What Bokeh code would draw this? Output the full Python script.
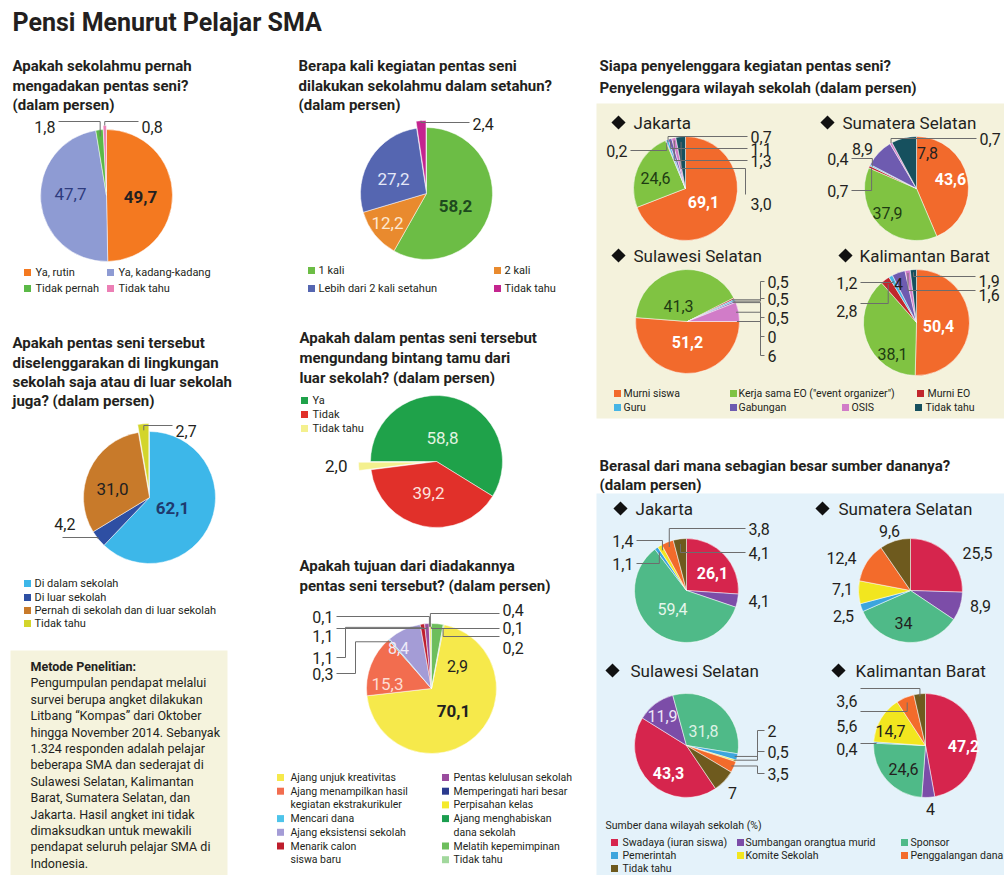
import math
from bokeh.plotting import figure
from bokeh.models import Range1d
from bokeh.core.properties import value
from bokeh.embed import file_html
from bokeh.resources import INLINE

W, H = 1004, 875

# ---------------- DATA ----------------
page_title = "Pensi Menurut Pelajar SMA"

q1_title = ["Apakah sekolahmu pernah", "mengadakan pentas seni?", "(dalam persen)"]
q1_cats = ["Ya, rutin", "Ya, kadang-kadang", "Tidak pernah", "Tidak tahu"]
q1_vals = [49.7, 47.7, 1.8, 0.8]

q2_title = ["Berapa kali kegiatan pentas seni", "dilakukan sekolahmu dalam setahun?", "(dalam persen)"]
q2_cats = ["1 kali", "2 kali", "Lebih dari 2 kali setahun", "Tidak tahu"]
q2_vals = [58.2, 12.2, 27.2, 2.4]

q3_title = ["Apakah dalam pentas seni tersebut", "mengundang bintang tamu dari", "luar sekolah? (dalam persen)"]
q3_cats = ["Ya", "Tidak", "Tidak tahu"]
q3_vals = [58.8, 39.2, 2.0]

q4_title = ["Apakah pentas seni tersebut", "diselenggarakan di lingkungan",
            "sekolah saja atau di luar sekolah", "juga? (dalam persen)"]
q4_cats = ["Di dalam sekolah", "Di luar sekolah", "Pernah di sekolah dan di luar sekolah", "Tidak tahu"]
q4_vals = [62.1, 4.2, 31.0, 2.7]

q5_title = ["Apakah tujuan dari diadakannya", "pentas seni tersebut? (dalam persen)"]
q5_cats = ["Ajang unjuk kreativitas", "Ajang menampilkan hasil\nkegiatan ekstrakurikuler", "Mencari dana",
           "Ajang eksistensi sekolah", "Menarik calon\nsiswa baru", "Pentas kelulusan sekolah",
           "Memperingati hari besar", "Perpisahan kelas", "Ajang menghabiskan\ndana sekolah",
           "Melatih kepemimpinan", "Tidak tahu"]
q5_vals = [70.1, 15.3, 0.3, 8.4, 1.1, 1.1, 0.1, 0.4, 0.1, 2.9, 0.2]

org_title = ["Siapa penyelenggara kegiatan pentas seni?", "Penyelenggara wilayah sekolah (dalam persen)"]
org_cats = ["Murni siswa", "Kerja sama EO (\"event organizer\")", "Murni EO", "Guru", "Gabungan", "OSIS", "Tidak tahu"]
org_regions = ["Jakarta", "Sumatera Selatan", "Sulawesi Selatan", "Kalimantan Barat"]
org_jakarta = [69.1, 24.6, 0.2, 0.7, 1.1, 1.3, 3.0]
org_sumsel = [43.6, 37.9, 0.7, 0.4, 8.9, 0.7, 7.8]
org_sulsel = [51.2, 41.3, 0.5, 0.5, 0.5, 6, 0]
org_kalbar = [50.4, 38.1, 2.8, 1.2, 4, 1.6, 1.9]

fund_title = ["Berasal dari mana sebagian besar sumber dananya?", "(dalam persen)"]
fund_cats = ["Swadaya (iuran siswa)", "Sumbangan orangtua murid", "Sponsor", "Pemerintah",
             "Komite Sekolah", "Penggalangan dana", "Tidak tahu"]
fund_regions = ["Jakarta", "Sumatera Selatan", "Sulawesi Selatan", "Kalimantan Barat"]
fund_jakarta = [26.1, 4.1, 59.4, 1.1, 1.4, 3.8, 4.1]
fund_sumsel = [25.5, 8.9, 34, 2.5, 7.1, 12.4, 9.6]
fund_sulsel = [43.3, 11.9, 31.8, 2, 0.5, 3.5, 7]
fund_kalbar = [47.2, 4, 24.6, 0.4, 14.7, 5.6, 3.6]
fund_legend_title = "Sumber dana wilayah sekolah (%)"

method_head = "Metode Penelitian:"
method_lines = ["Pengumpulan pendapat melalui", "survei berupa angket dilakukan",
                "Litbang \u201cKompas\u201d dari Oktober", "hingga November 2014. Sebanyak",
                "1.324 responden adalah pelajar", "beberapa SMA dan sederajat di",
                "Sulawesi Selatan, Kalimantan", "Barat, Sumatera Selatan, dan",
                "Jakarta. Hasil angket ini tidak", "dimaksudkan untuk mewakili",
                "pendapat seluruh pelajar SMA di", "Indonesia."]

# ---------------- STYLE ----------------
q1_colors = ["#F47920", "#8E9BD3", "#5BB947", "#EC7FB5"]
q2_colors = ["#6CBD45", "#E98A2E", "#5566B1", "#C4258F"]
q3_colors = ["#1FA24A", "#E1302A", "#F4F08E"]
q4_colors = ["#3DB7E9", "#2E4FA3", "#C87A2A", "#D3D52B"]
q5_colors = ["#F6E94B", "#F26D4F", "#4EC4EA", "#A49CD6", "#BE1E2D", "#9A4C9E",
             "#2B3A8E", "#F4EA2C", "#1B9E4F", "#6DBE5C", "#A2D89D"]
org_colors = ["#F26A2C", "#80C342", "#C1272D", "#47B5E5", "#6E5BB0", "#D17CC8", "#16505E"]
fund_colors = ["#D6254D", "#7C4DA8", "#4FBA88", "#3CA5DD", "#F2E61F", "#F36B2B", "#6E5A1E"]

FONT = "Roboto"
DARK = "#231F20"
LINE = "#6d6d6d"

p = figure(width=W, height=H, x_range=Range1d(0, W), y_range=Range1d(0, H),
           toolbar_location=None, output_backend="svg", min_border=0,
           x_axis_type=None, y_axis_type=None)
p.outline_line_color = None
p.grid.visible = False
p.background_fill_color = "white"
p.border_fill_color = "white"


def Y(y):
    return H - y


def fmt(v):
    if isinstance(v, int):
        return str(v)
    return f"{v:.1f}".replace(".", ",")


def txt(x, y, s, size=12, color=DARK, bold=False, align="left"):
    p.text(x=[x], y=[Y(y)], text=[s], text_font=value(FONT), text_font_size=f"{size}px",
           text_font_style="bold" if bold else "normal", text_color=color,
           text_align=align, text_baseline="middle")


def title_lines(x, ys, lines, size=15):
    for yy, s in zip(ys, lines):
        txt(x, yy, s, size=size, bold=True)


def draw_pie(cx, cy, r, vals, colors, start=0.0, explode=None):
    total = float(sum(vals))
    geo = []
    a = start
    xs, ys, sa, ea, cs = [], [], [], [], []
    for i, v in enumerate(vals):
        sw = v / total * 360.0
        d0, d1 = a, a + sw
        mid = math.radians((d0 + d1) / 2)
        e = (explode or {}).get(i, 0)
        ox = cx + e * math.sin(mid)
        oy = cy - e * math.cos(mid)
        geo.append((ox, oy, d0, d1))
        if sw > 0:
            xs.append(ox)
            ys.append(Y(oy))
            sa.append(math.radians(90 - d1))
            ea.append(math.radians(90 - d0))
            cs.append(colors[i])
        a = d1
    p.wedge(x=xs, y=ys, radius=r, start_angle=sa, end_angle=ea,
            fill_color=cs, line_color="white", line_width=0.5)
    return dict(r=r, geo=geo, vals=vals)


def rim(pg, idx, f):
    ox, oy, d0, d1 = pg["geo"][idx]
    m = math.radians((d0 + d1) / 2)
    return ox + pg["r"] * f * math.sin(m), oy - pg["r"] * f * math.cos(m)


def label(pg, idx, x, y, size=16, color=DARK, bold=False, align="center"):
    txt(x, y, fmt(pg["vals"][idx]), size=size, color=color, bold=bold, align=align)


def callout(pg, idx, lx, ly, align, via=None, mode="hv", f=0.9, line_y=None, size=16):
    txt(lx, ly, fmt(pg["vals"][idx]), size=size, align=align)
    tx, ty = rim(pg, idx, f)
    yl = ly if line_y is None else line_y
    ax = lx + 3 if align == "right" else lx - 3
    pts = list(via) if via else [(ax, yl)]
    lx0, ly0 = pts[-1]
    if mode == "hv":
        pts += [(tx, ly0), (tx, ty)]
    else:
        pts += [(lx0, ty), (tx, ty)]
    p.line(x=[q[0] for q in pts], y=[Y(q[1]) for q in pts], line_color=LINE, line_width=1)


def legend_item(xs, xt, y, color, text, size=11):
    p.rect(x=[xs], y=[Y(y)], width=7, height=7, fill_color=color, line_color=None)
    txt(xt, y, text, size=size)


def region_head(xd, y, name, xt):
    p.scatter(x=[xd], y=[Y(y)], marker="square", angle=math.pi / 4, size=10,
              fill_color="#111111", line_color=None)
    txt(xt, y, name, size=17)


# ---------------- backgrounds ----------------
p.quad(left=[596], right=[W], top=[Y(103)], bottom=[Y(418)], fill_color="#F4F2DC", line_color=None)
p.quad(left=[596], right=[W], top=[Y(493)], bottom=[Y(H)], fill_color="#E4F2FA", line_color=None)
p.quad(left=[10], right=[227], top=[Y(650)], bottom=[Y(H)], fill_color="#F5F3DD", line_color=None)

# ---------------- page title ----------------
txt(12, 22, page_title, size=25, bold=True)

# ---------------- Q1 ----------------
title_lines(12, [65, 85, 104], q1_title)
pg1 = draw_pie(106, 195, 66, q1_vals, q1_colors, explode={3: 4})
label(pg1, 0, 140, 196, size=17, bold=True)
label(pg1, 1, 70, 193, size=17, color="#2E3B7E")
callout(pg1, 2, 55, 126, "right", line_y=121, f=0.9)
callout(pg1, 3, 141, 126, "left", line_y=121, f=1.0)
for i, (xs_, xt_, yy) in enumerate([(27, 35, 272), (110, 118, 272), (27, 35, 288), (110, 118, 288)]):
    legend_item(xs_, xt_, yy, q1_colors[i], q1_cats[i])

# ---------------- Q2 ----------------
title_lines(298, [65, 85, 104], q2_title)
pg2 = draw_pie(426, 193, 66, q2_vals, q2_colors, explode={3: 7})
label(pg2, 0, 455, 205, size=17, bold=True, color="#1E4A1E")
label(pg2, 1, 387, 222, size=17, color="#FDE7CF")
label(pg2, 2, 393, 178, size=17, color="#E4E8F8")
callout(pg2, 3, 472, 123, "left", line_y=122, f=1.0)
for i, (xs_, xt_, yy) in enumerate([(311, 318, 270), (497, 504, 270), (311, 318, 288), (497, 504, 288)]):
    legend_item(xs_, xt_, yy, q2_colors[i], q2_cats[i])

# ---------------- Q3 ----------------
title_lines(299, [337, 357, 377], q3_title)
for i, yy in enumerate([400, 414, 428]):
    legend_item(304, 312, yy, q3_colors[i], q3_cats[i])
pg3 = draw_pie(436, 461, 66, q3_vals, q3_colors, start=270, explode={2: 12})
label(pg3, 0, 442, 437, size=17, color="#E3F4E1")
label(pg3, 1, 428, 492, size=17, color="#FDE1DD")
label(pg3, 2, 347, 465, size=17, align="right")

# ---------------- Q4 ----------------
title_lines(12, [342, 362, 381, 400], q4_title)
pg4 = draw_pie(149, 497, 66, q4_vals, q4_colors, explode={3: 8})
label(pg4, 0, 172, 507, size=17, bold=True, color="#1F3A6E")
label(pg4, 2, 112, 488, size=17)
callout(pg4, 1, 75, 523, "right", via=[(62, 537)], f=1.0)
callout(pg4, 3, 175, 430, "left", line_y=425, f=0.9)
for i, yy in enumerate([583, 597, 610, 623]):
    legend_item(27, 34, yy, q4_colors[i], q4_cats[i])

# ---------------- method box ----------------
txt(30, 666, method_head, size=12.5, bold=True)
for k, s in enumerate(method_lines):
    txt(30, 666 + 16.4 * (k + 1), s, size=12.5)

# ---------------- Q5 ----------------
title_lines(299, [565, 585], q5_title)
pg5 = draw_pie(431, 688, 65, q5_vals, q5_colors, start=11.2)
label(pg5, 0, 453, 710, size=17, bold=True)
label(pg5, 1, 387, 683, size=17, color="#FDDCD2")
label(pg5, 3, 398, 647, size=16, color="#EEEBF9")
label(pg5, 9, 457, 665, size=16)
callout(pg5, 6, 333, 616, "right", f=0.95)
callout(pg5, 5, 333, 635, "right", line_y=628, f=0.95)
callout(pg5, 4, 333, 657, "right", via=[(336, 657), (345, 657)], mode="vh", f=0.95)
callout(pg5, 2, 333, 673, "right", via=[(336, 673), (355, 673)], mode="vh", f=0.95)
callout(pg5, 7, 502, 609, "left", line_y=613, f=0.95)
callout(pg5, 8, 502, 627, "left", line_y=628, f=0.95)
callout(pg5, 10, 502, 647, "left", line_y=636, f=0.95)
step = 13.7
row = 0
for i in range(5):
    parts = q5_cats[i].split("\n")
    legend_item(280, 290, 777 + step * row, q5_colors[i], parts[0], size=10.5)
    for extra in parts[1:]:
        row += 1
        txt(290, 777 + step * row, extra, size=10.5)
    row += 1
row = 0
for i in range(5, 11):
    parts = q5_cats[i].split("\n")
    legend_item(445, 453, 777 + step * row, q5_colors[i], parts[0], size=10.5)
    for extra in parts[1:]:
        row += 1
        txt(453, 777 + step * row, extra, size=10.5)
    row += 1

# ---------------- organizers ----------------
title_lines(599, [65, 87], org_title)
region_head(618, 122, org_regions[0], 633)
region_head(827, 122, org_regions[1], 842)
region_head(618, 255, org_regions[2], 633)
region_head(845, 255, org_regions[3], 859)

pj = draw_pie(685, 188, 52, org_jakarta, org_colors)
label(pj, 0, 703, 201, bold=True, color="white")
label(pj, 1, 655, 177, color="#1E3B12")
callout(pj, 2, 627, 150, "right", f=0.95)
callout(pj, 3, 750, 136, "left", f=0.95)
callout(pj, 4, 750, 148, "left", f=0.95)
callout(pj, 5, 750, 160, "left", f=0.95)
callout(pj, 6, 750, 203, "left", via=[(745, 194), (745, 168)], f=0.9)

ps = draw_pie(916, 188, 52, org_sumsel, org_colors)
label(ps, 0, 950, 178, bold=True, color="white")
label(ps, 1, 887, 212, color="#1E3B12")
label(ps, 6, 927, 152)
label(ps, 4, 862, 148)
callout(ps, 5, 979, 138, "left", f=1.0)
callout(ps, 3, 848, 158, "right", f=0.95)
callout(ps, 2, 848, 190, "right", f=0.95)

psu = draw_pie(687, 321, 52, org_sulsel, org_colors, start=90)
label(psu, 0, 687, 341, bold=True, color="white")
label(psu, 1, 678, 305, color="#1E3B12")
for idx, yy in [(2, 281), (3, 298), (4, 317), (6, 336), (5, 355)]:
    callout(psu, idx, 767, yy, "left", via=[(764, yy), (760, yy)], mode="vh", f=0.95)

pk = draw_pie(916, 322, 53, org_kalbar, org_colors)
label(pk, 0, 938, 325, bold=True, color="white")
label(pk, 1, 892, 353, color="#1E3B12")
label(pk, 4, 898, 283)
callout(pk, 3, 857, 282, "right", f=0.9)
callout(pk, 2, 857, 310, "right", line_y=303, f=0.9)
callout(pk, 6, 978, 280, "left", line_y=276, f=0.95)
callout(pk, 5, 978, 294, "left", line_y=290, f=0.95)

org_leg = [(617, 623, 393), (733, 738, 393), (920, 927, 393),
           (617, 623, 407), (733, 738, 407), (845, 851, 407), (918, 925, 407)]
for i, (xs_, xt_, yy) in enumerate(org_leg):
    legend_item(xs_, xt_, yy, org_colors[i], org_cats[i], size=10.5)

# ---------------- funding ----------------
title_lines(599, [465, 484], fund_title)
region_head(620, 508, fund_regions[0], 635)
region_head(822, 508, fund_regions[1], 838)
region_head(612, 670, fund_regions[2], 630)
region_head(838, 670, fund_regions[3], 855)

fj = draw_pie(686, 590, 52, fund_jakarta, fund_colors)
label(fj, 0, 712, 572, bold=True, color="white")
label(fj, 2, 672, 608, color="#E6F6EC")
label(fj, 1, 748, 600, align="left")
callout(fj, 5, 748, 528, "left", f=0.9)
callout(fj, 6, 748, 552, "left", f=0.9)
callout(fj, 4, 633, 540, "right", f=0.9)
callout(fj, 3, 633, 563, "right", f=0.9)

fs = draw_pie(910, 590, 52, fund_sumsel, fund_colors)
label(fs, 0, 977, 552)
label(fs, 1, 980, 605)
label(fs, 2, 903, 622)
label(fs, 3, 843, 615)
label(fs, 4, 842, 588)
label(fs, 5, 841, 557)
label(fs, 6, 889, 530)

fsu = draw_pie(686, 745, 52, fund_sulsel, fund_colors, start=146)
label(fsu, 0, 668, 772, bold=True, color="white")
label(fsu, 1, 662, 715, color="#EEE6F7")
label(fsu, 2, 703, 730, color="#DDF2E5")
label(fsu, 6, 732, 792)
for idx, yy in [(3, 730), (4, 751), (5, 773)]:
    callout(fsu, idx, 767, yy, "left", via=[(764, yy), (757, yy)], mode="vh", f=0.95)

fk = draw_pie(925, 745, 52, fund_kalbar, fund_colors)
label(fk, 0, 963, 745, bold=True, color="white")
label(fk, 2, 903, 768)
label(fk, 4, 890, 730)
label(fk, 1, 930, 808)
callout(fk, 6, 857, 700, "right", line_y=688, f=0.95)
callout(fk, 5, 857, 725, "right", line_y=711, f=0.9)
callout(fk, 3, 857, 748, "right", line_y=743, f=0.95)

txt(605, 825, fund_legend_title, size=10.5)
fund_leg = [(614, 622, 842), (740, 745, 842), (904, 910, 842),
            (614, 622, 855), (740, 745, 855), (904, 910, 855), (614, 622, 868)]
for i, (xs_, xt_, yy) in enumerate(fund_leg):
    legend_item(xs_, xt_, yy, fund_colors[i], fund_cats[i], size=10.5)

open("out.html", "w").write(file_html(p, INLINE))
